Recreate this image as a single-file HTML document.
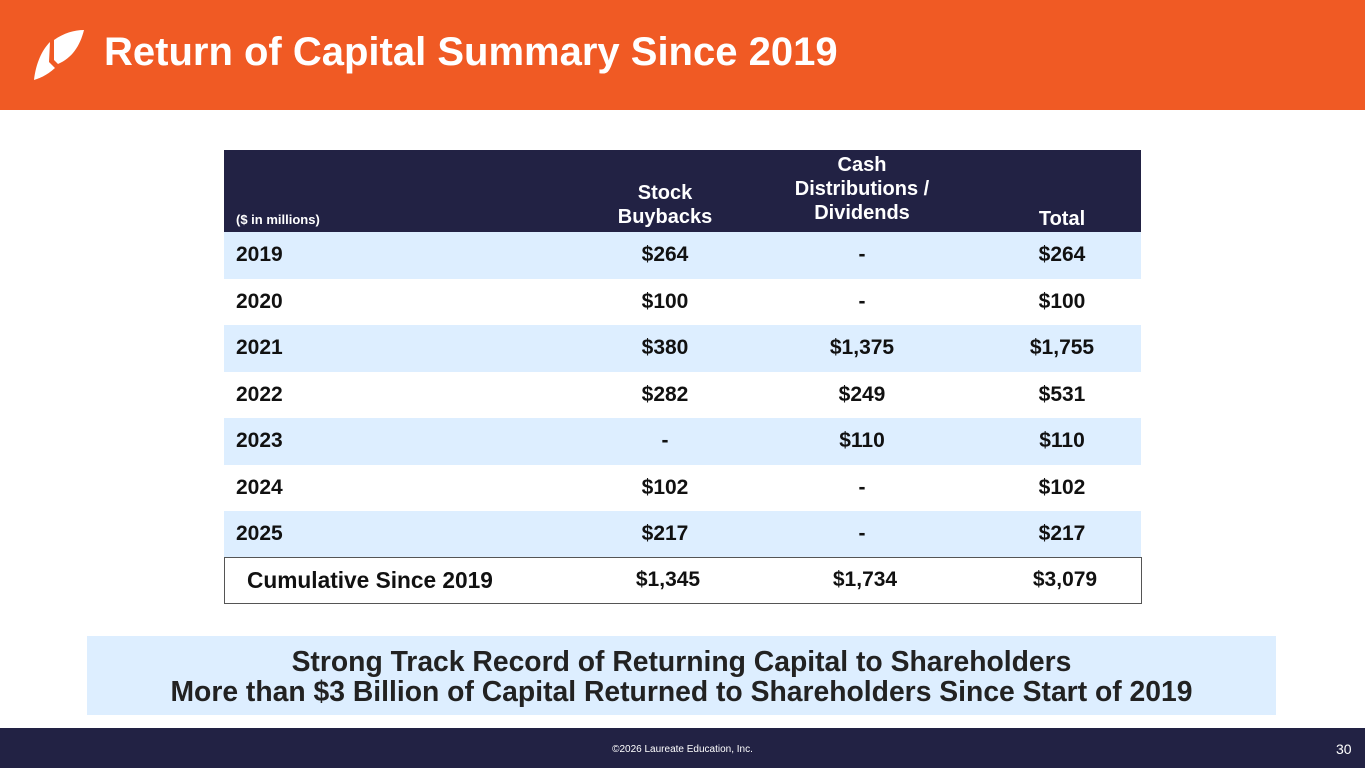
<!DOCTYPE html>
<html><head><meta charset="utf-8"><style>
*{margin:0;padding:0;box-sizing:border-box}
body{width:1365px;height:768px;position:relative;background:#fff;font-family:"Liberation Sans",Arial,sans-serif;overflow:hidden}
.hdr{position:absolute;left:0;top:0;width:1365px;height:110px;background:#F05A24}
.title{position:absolute;left:104px;top:30px;color:#fff;font-weight:bold;font-size:40px}
.ftr{position:absolute;left:0;top:728px;width:1365px;height:40px;background:#222244;color:#fff}
.abs{position:absolute}
.th{position:absolute;color:#fff;font-weight:bold;font-size:20px;text-align:center;line-height:24px}
.row{position:absolute;left:224px;width:917px;height:46.5px}
.cell{position:absolute;top:0;height:46px;line-height:46px;font-weight:bold;font-size:21px;color:#111;text-align:center;width:200px}
.yr{left:12px;text-align:left}
.c1{left:341px}.c2{left:538px}.c3{left:738px}
.banner{position:absolute;left:87px;top:636px;width:1189px;height:79px;background:#DDEEFF;text-align:center;font-weight:bold;font-size:28.3px;color:#222;line-height:30px;padding-top:10px}
</style></head><body>
<div class="hdr">
<svg class="abs" style="left:32px;top:28px" width="54" height="54"><path d="M2,52 C4,35 10,22 18,14 L17,34 L23,40 C14,48 8,50 2,52 Z M22,12 C32,5 42,2 52,2 C48,18 40,30 26,36 L22,32 Z" fill="#fff"/></svg>
<div class="title">Return of Capital Summary Since 2019</div>
</div>
<div class="abs" style="left:224px;top:150px;width:917px;height:82px;background:#222244"></div>
<div class="th" style="left:236px;top:212px;font-size:13px;text-align:left;line-height:16px">($ in millions)</div>
<div class="th" style="left:565px;top:181px;width:200px">Stock<br>Buybacks</div>
<div class="th" style="left:762px;top:153px;width:200px">Cash<br>Distributions /<br>Dividends</div>
<div class="th" style="left:962px;top:207px;width:200px">Total</div>
<div id="rows"></div>
<div class="abs" style="left:224px;top:557px;width:918px;height:47px;border:1.5px solid #555">
<div class="cell" style="left:22px;text-align:left;width:300px;top:-1px;font-size:22.7px">Cumulative Since 2019</div>
<div class="cell c1" style="top:-1px;left:343px">$1,345</div><div class="cell c2" style="top:-1px;left:540px">$1,734</div><div class="cell c3" style="top:-1px;left:740px">$3,079</div>
</div>
<div class="banner">Strong Track Record of Returning Capital to Shareholders<br>More than $3 Billion of Capital Returned to Shareholders Since Start of 2019</div>
<div class="ftr">
<div class="abs" style="left:0;width:1365px;top:16px;text-align:center;font-size:10px">©2026 Laureate Education, Inc.</div>
<div class="abs" style="left:1336px;top:13px;font-size:14px">30</div>
</div>
<script>
const years=["2019","2020","2021","2022","2023","2024","2025"];
const buybacks=["$264","$100","$380","$282","-","$102","$217"];
const dividends=["-","-","$1,375","$249","$110","-","-"];
const totals=["$264","$100","$1,755","$531","$110","$102","$217"];
const c=document.getElementById('rows');
years.forEach((y,i)=>{
const r=document.createElement('div');r.className='row';


r.style.top=(232+i*46.5)+'px';r.style.background=i%2===0?'#DDEEFF':'#fff';
r.innerHTML=`<div class="cell yr">${y}</div><div class="cell c1">${buybacks[i]}</div><div class="cell c2">${dividends[i]}</div><div class="cell c3">${totals[i]}</div>`;
c.appendChild(r);});
</script>
</body></html>
